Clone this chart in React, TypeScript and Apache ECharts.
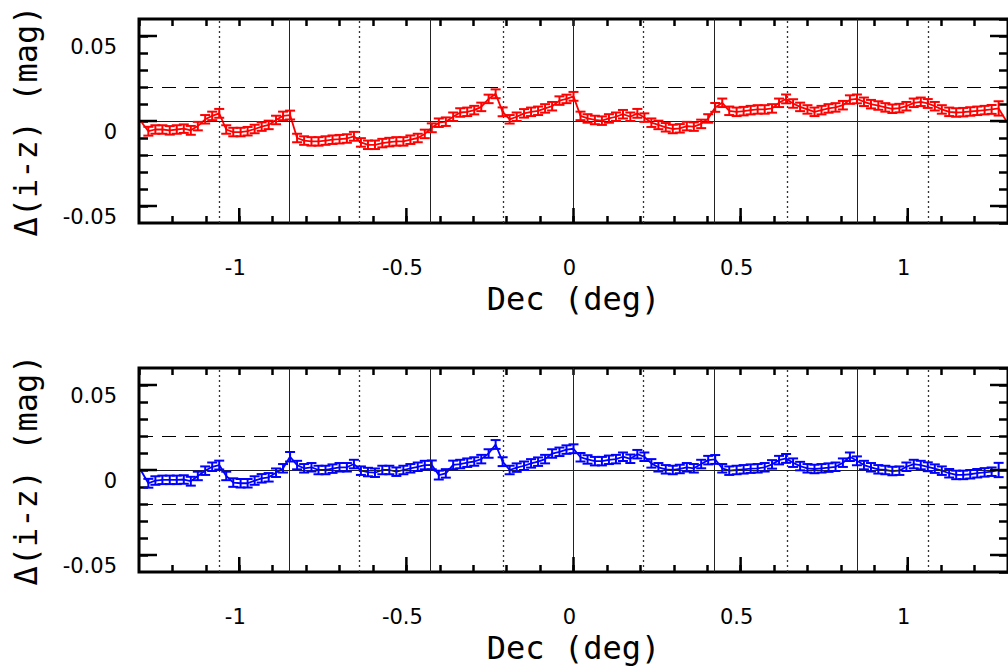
import React, { useEffect, useRef } from "react";
import * as echarts from "echarts";

// Dec (deg) of each bin; the first and last entries are the open ends of the curve
const dec = [
  -1.295, -1.272, -1.251, -1.230, -1.208, -1.187, -1.166, -1.145, -1.124, -1.102, -1.081,
  -1.060, -1.039, -1.018, -0.996, -0.975, -0.954, -0.933, -0.912, -0.890, -0.869,
  -0.848, -0.827, -0.806, -0.784, -0.763, -0.742, -0.721, -0.700, -0.678, -0.657,
  -0.636, -0.615, -0.594, -0.572, -0.551, -0.530, -0.509, -0.488, -0.466, -0.445,
  -0.424, -0.403, -0.382, -0.360, -0.339, -0.318, -0.297, -0.276, -0.254, -0.233,
  -0.212, -0.191, -0.170, -0.148, -0.127, -0.106, -0.085, -0.064, -0.042, -0.021,
  0.000, 0.021, 0.042, 0.064, 0.085, 0.106, 0.127, 0.148, 0.170, 0.191,
  0.212, 0.233, 0.254, 0.276, 0.297, 0.318, 0.339, 0.360, 0.382, 0.403,
  0.424, 0.445, 0.466, 0.488, 0.509, 0.530, 0.551, 0.572, 0.594, 0.615,
  0.636, 0.657, 0.678, 0.700, 0.721, 0.742, 0.763, 0.784, 0.806, 0.827,
  0.848, 0.869, 0.890, 0.912, 0.933, 0.954, 0.975, 0.996, 1.018, 1.039,
  1.060, 1.081, 1.102, 1.124, 1.145, 1.166, 1.187, 1.208, 1.230, 1.251,
  1.272, 1.295,
];

// top panel (red) Δ(i-z)
const diffTop = [
  0.0, -0.006, -0.005, -0.005, -0.0055, -0.005, -0.0045, -0.0055, -0.003, 0.001, 0.003,
  0.0045, -0.005, -0.0065, -0.0065, -0.006, -0.0047, -0.0033, -0.0023, 0.0006, 0.003,
  0.0035, -0.010, -0.0115, -0.012, -0.012, -0.0115, -0.011, -0.0107, -0.0103, -0.009,
  -0.0126, -0.014, -0.014, -0.013, -0.0124, -0.012, -0.012, -0.011, -0.010, -0.0076,
  -0.004, -0.001, -0.0004, 0.0025, 0.005, 0.0054, 0.0064, 0.0083, 0.013, 0.016,
  0.0054, 0.001, 0.0025, 0.0045, 0.0054, 0.006, 0.0074, 0.0087, 0.012, 0.013,
  0.0145, 0.003, 0.0015, 0.0006, 0.0002, 0.0015, 0.0025, 0.004, 0.0025, 0.0045,
  0.002, -0.001, -0.0023, -0.0037, -0.0047, -0.0043, -0.003, -0.0033, -0.0017, 0.0015,
  0.008, 0.0107, 0.006, 0.0054, 0.0058, 0.0064, 0.0068, 0.0068, 0.0074, 0.0107,
  0.013, 0.0103, 0.0083, 0.0068, 0.0054, 0.0064, 0.0074, 0.008, 0.0093, 0.0126,
  0.013, 0.0113, 0.0099, 0.0091, 0.008, 0.0072, 0.0076, 0.0087, 0.0107, 0.0113,
  0.0103, 0.0087, 0.0068, 0.0054, 0.005, 0.0052, 0.0056, 0.006, 0.0064, 0.0068,
  0.0074, 0.0,
];

// bottom panel (blue) Δ(i-z)
const diffBottom = [
  0.0, -0.0078, -0.0062, -0.0058, -0.0058, -0.0058, -0.0056, -0.0066, -0.0035, -0.0004, 0.0019,
  0.0029, -0.0035, -0.0074, -0.0078, -0.0078, -0.0062, -0.0049, -0.0043, -0.0016, 0.001,
  0.0078, 0.0029, 0.001, 0.0016, 0.0, 0.0, 0.0008, 0.0016, 0.0016, 0.0035,
  -0.0004, -0.0012, -0.0016, 0.0, 0.0, -0.001, 0.0, 0.001, 0.0019, 0.0029,
  0.003, -0.003, -0.002, 0.003, 0.0035, 0.0043, 0.005, 0.0064, 0.0097, 0.015,
  0.0049, 0.0, 0.0014, 0.0025, 0.0039, 0.0049, 0.0064, 0.0097, 0.0107, 0.012,
  0.0125, 0.0075, 0.0062, 0.0052, 0.0052, 0.006, 0.0064, 0.0078, 0.0066, 0.0093,
  0.0078, 0.0039, 0.0016, 0.0004, 0.0, 0.0006, 0.0016, 0.001, 0.0035, 0.0058,
  0.0062, 0.001, -0.0004, 0.0, 0.0004, 0.0008, 0.001, 0.0016, 0.0033, 0.0058,
  0.0068, 0.0043, 0.0023, 0.001, 0.0006, 0.001, 0.0014, 0.0019, 0.0043, 0.0078,
  0.0054, 0.0029, 0.0016, 0.0004, 0.0, -0.0006, -0.0004, 0.0019, 0.0035, 0.0029,
  0.0019, 0.0008, -0.0004, -0.0019, -0.0029, -0.0029, -0.0025, -0.0019, -0.0014, -0.001,
  0.0, 0.0,
];

// 1-sigma errors (0 = no bar drawn)
const errTop = [
  0, 0.0026, 0.0025, 0.0025, 0.0025, 0.0025, 0.0025, 0.0026, 0.0025, 0.0025, 0.0025,
  0.0026, 0.0025, 0.0025, 0.0025, 0.0025, 0.0025, 0.0025, 0.0025, 0.0025, 0.0025,
  0.0026, 0.0025, 0.0025, 0.0025, 0.0025, 0.0025, 0.0025, 0.0025, 0.0025, 0.0026,
  0.0025, 0.0025, 0.0025, 0.0025, 0.0025, 0.0025, 0.0025, 0.0025, 0.0025, 0.0025,
  0.0026, 0.0025, 0.0025, 0.0025, 0.0025, 0.0025, 0.0025, 0.0025, 0.0025, 0.0026,
  0.0026, 0.0025, 0.0025, 0.0025, 0.0025, 0.0025, 0.0025, 0.0025, 0.0025, 0.0025,
  0.0026, 0.0025, 0.0025, 0.0025, 0.0025, 0.0025, 0.0025, 0.0025, 0.0025, 0.0026,
  0.0025, 0.0025, 0.0025, 0.0025, 0.0025, 0.0025, 0.0025, 0.0025, 0.0025, 0.0025,
  0.0026, 0.0025, 0.0025, 0.0025, 0.0025, 0.0025, 0.0025, 0.0025, 0.0025, 0.0025,
  0.0026, 0.0025, 0.0025, 0.0025, 0.0025, 0.0025, 0.0025, 0.0025, 0.0025, 0.0025,
  0.0026, 0.0025, 0.0025, 0.0025, 0.0025, 0.0025, 0.0025, 0.0025, 0.0025, 0.0025,
  0.0026, 0.0025, 0.0025, 0.0025, 0.0025, 0.0025, 0.0025, 0.0025, 0.0025, 0.0026,
  0.0042, 0,
];
const errBottom = [
  0, 0.0026, 0.0025, 0.0025, 0.0025, 0.0025, 0.0025, 0.0026, 0.0025, 0.0025, 0.0025,
  0.0026, 0.0025, 0.0025, 0.0025, 0.0025, 0.0025, 0.0025, 0.0025, 0.0025, 0.0025,
  0.0028, 0.0025, 0.0025, 0.0025, 0.0025, 0.0025, 0.0025, 0.0025, 0.0025, 0.0025,
  0.0025, 0.0025, 0.0025, 0.0025, 0.0025, 0.0025, 0.0025, 0.0025, 0.0025, 0.0025,
  0.0026, 0.0026, 0.0025, 0.0025, 0.0025, 0.0025, 0.0025, 0.0025, 0.0025, 0.0026,
  0.0026, 0.0025, 0.0025, 0.0025, 0.0025, 0.0025, 0.0025, 0.0025, 0.0025, 0.0025,
  0.0026, 0.0025, 0.0025, 0.0025, 0.0025, 0.0025, 0.0025, 0.0025, 0.0025, 0.0025,
  0.0025, 0.0025, 0.0025, 0.0025, 0.0025, 0.0025, 0.0025, 0.0025, 0.0025, 0.0025,
  0.0026, 0.0025, 0.0025, 0.0025, 0.0025, 0.0025, 0.0025, 0.0025, 0.0025, 0.0025,
  0.0026, 0.0025, 0.0025, 0.0025, 0.0025, 0.0025, 0.0025, 0.0025, 0.0025, 0.0025,
  0.0026, 0.0025, 0.0025, 0.0025, 0.0025, 0.0025, 0.0025, 0.0025, 0.0025, 0.0025,
  0.0026, 0.0025, 0.0025, 0.0025, 0.0025, 0.0025, 0.0025, 0.0025, 0.0025, 0.0025,
  0.0042, 0,
];

// axes
const xMajorTicks = [-1, -0.5, 0, 0.5, 1];
const yMajorTicks = [-0.05, 0, 0.05];
const camcolEdges = [-0.849, -0.4265, 0, 0.4205, 0.847]; // solid verticals
const camcolMids = [-1.0616, -0.6408, -0.2134, 0.2054, 0.636, 1.057]; // dotted verticals
const dashedLevels = [-0.02, 0.02];
const X_MIN = -1.3;
const X_MAX = 1.3;
const Y_MIN = -0.06;
const Y_MAX = 0.06;

const panels = [
  { top: 19, color: "#ff0000", diff: diffTop, err: errTop },
  { top: 368, color: "#0000ff", diff: diffBottom, err: errBottom },
];

const LABEL_FONT = "'DejaVu Sans', sans-serif";
const NAME_FONT = "'DejaVu Sans Mono', monospace";

function xLabel(v: number) {
  const r = Math.round(v * 10);
  if (Math.abs(v * 10 - r) > 1e-6 || r % 5 !== 0) return "";
  return String(r / 10);
}
function yLabel(v: number) {
  const r = Math.round(v * 100);
  if (Math.abs(v * 100 - r) > 1e-6 || r % 5 !== 0) return "";
  return String(r / 100);
}

function buildOption() {
  const grid: any[] = [];
  const xAxis: any[] = [];
  const yAxis: any[] = [];
  const series: any[] = [];

  panels.forEach((p, i) => {
    grid.push({
      left: 139,
      top: p.top,
      width: 874,
      height: 204,
      show: true,
      borderColor: "#000",
      borderWidth: 3,
      backgroundColor: "transparent",
    });
    const tickStyle = { color: "#000", width: 2.5 };
    const noLine = { show: false, onZero: false };
    xAxis.push({
      type: "value",
      gridIndex: i,
      min: X_MIN,
      max: X_MAX,
      interval: 0.1,
      position: "bottom",
      axisLine: noLine,
      axisTick: { inside: true, length: 7, lineStyle: tickStyle },
      splitLine: { show: false },
      axisLabel: {
        formatter: xLabel,
        fontFamily: LABEL_FONT,
        fontSize: 21,
        color: "#000",
        margin: 34,
        padding: [0, 8, 0, 0],
        showMinLabel: false,
        showMaxLabel: false,
      },
      name: "Dec (deg)",
      nameLocation: "middle",
      nameGap: 60,
      nameTextStyle: { fontFamily: NAME_FONT, fontSize: 32, color: "#000" },
    });
    xAxis.push({
      type: "value",
      gridIndex: i,
      min: X_MIN,
      max: X_MAX,
      interval: 0.1,
      position: "top",
      axisLine: noLine,
      axisTick: { inside: true, length: 7, lineStyle: tickStyle },
      splitLine: { show: false },
      axisLabel: { show: false },
    });
    yAxis.push({
      type: "value",
      gridIndex: i,
      min: Y_MIN,
      max: Y_MAX,
      interval: 0.01,
      position: "left",
      axisLine: noLine,
      axisTick: { inside: true, length: 9, lineStyle: tickStyle },
      splitLine: { show: false },
      axisLabel: {
        formatter: yLabel,
        fontFamily: LABEL_FONT,
        fontSize: 21,
        color: "#000",
        margin: 22,
        verticalAlign: "top",
        showMinLabel: false,
        showMaxLabel: false,
      },
      name: "Δ(i-z) (mag)",
      nameLocation: "middle",
      nameRotate: 90,
      nameGap: 97,
      nameTextStyle: { fontFamily: NAME_FONT, fontSize: 32, color: "#000" },
    });
    yAxis.push({
      type: "value",
      gridIndex: i,
      min: Y_MIN,
      max: Y_MAX,
      interval: 0.01,
      position: "right",
      axisLine: noLine,
      axisTick: { inside: true, length: 9, lineStyle: tickStyle },
      splitLine: { show: false },
      axisLabel: { show: false },
    });

    const xi = i * 2;
    const yi = i * 2;

    // reference lines
    series.push({
      type: "line",
      xAxisIndex: xi,
      yAxisIndex: yi,
      data: [],
      z: 1,
      silent: true,
      markLine: {
        silent: true,
        symbol: ["none", "none"],
        label: { show: false },
        animation: false,
        data: [
          ...camcolEdges.map((v) => ({
            xAxis: v,
            lineStyle: { type: "solid", color: "#222", width: 1 },
          })),
          ...camcolMids.map((v) => ({
            xAxis: v,
            lineStyle: { type: [2, 3], color: "#333", width: 1.3 },
          })),
          { yAxis: 0, lineStyle: { type: "solid", color: "#222", width: 1.2 } },
          ...dashedLevels.map((v) => ({
            yAxis: v,
            lineStyle: { type: [14, 9], color: "#000", width: 1.2 },
          })),
        ],
      },
    });

    // major ticks (longer)
    series.push({
      type: "custom",
      xAxisIndex: xi,
      yAxisIndex: yi,
      z: 6,
      silent: true,
      clip: false,
      encode: { x: 0, y: 1 },
      data: [
        ...xMajorTicks.map((v) => [v, 0, 0]),
        ...yMajorTicks.map((v) => [0, v, 1]),
      ],
      renderItem: (params: any, api: any) => {
        const cs = params.coordSys;
        const kind = api.value(2);
        const style = { stroke: "#000", lineWidth: 2.5 };
        if (kind === 0) {
          const pt = api.coord([api.value(0), Y_MIN]);
          const bottom = cs.y + cs.height;
          return {
            type: "line",
            shape: { x1: pt[0], y1: bottom, x2: pt[0], y2: bottom - 15 },
            style,
          };
        }
        const pt = api.coord([X_MIN, api.value(1)]);
        const right = cs.x + cs.width;
        return {
          type: "group",
          children: [
            { type: "line", shape: { x1: cs.x, y1: pt[1], x2: cs.x + 18, y2: pt[1] }, style },
            { type: "line", shape: { x1: right - 18, y1: pt[1], x2: right, y2: pt[1] }, style },
          ],
        };
      },
    });

    // data line
    series.push({
      type: "line",
      xAxisIndex: xi,
      yAxisIndex: yi,
      data: dec.map((d, j) => [d, p.diff[j]]),
      showSymbol: false,
      symbol: "none",
      z: 4,
      lineStyle: { color: p.color, width: 1.8 },
      silent: true,
    });

    // error bars
    series.push({
      type: "custom",
      xAxisIndex: xi,
      yAxisIndex: yi,
      z: 5,
      silent: true,
      encode: { x: 0, y: 1 },
      data: dec.map((d, j) => [d, p.diff[j], p.err[j]]),
      renderItem: (params: any, api: any) => {
        const e = api.value(2);
        if (!e) return null;
        const x = api.value(0);
        const y = api.value(1);
        const hi = api.coord([x, y + e]);
        const lo = api.coord([x, y - e]);
        const hw = 5;
        const style = { stroke: p.color, lineWidth: 2 };
        return {
          type: "group",
          children: [
            { type: "line", shape: { x1: hi[0], y1: hi[1], x2: lo[0], y2: lo[1] }, style },
            { type: "line", shape: { x1: hi[0] - hw, y1: hi[1], x2: hi[0] + hw, y2: hi[1] }, style },
            { type: "line", shape: { x1: lo[0] - hw, y1: lo[1], x2: lo[0] + hw, y2: lo[1] }, style },
          ],
        };
      },
    });
  });

  return {
    animation: false,
    backgroundColor: "#fff",
    grid,
    xAxis,
    yAxis,
    series,
  };
}

export default function App() {
  const ref = useRef<HTMLDivElement>(null);
  useEffect(() => {
    if (!ref.current) return;
    const chart = echarts.init(ref.current, undefined, { renderer: "svg" });
    chart.setOption(buildOption() as any);
    return () => chart.dispose();
  }, []);
  return (
    <div
      ref={ref}
      style={{ position: "fixed", left: 0, top: 0, width: 1008, height: 670, background: "#fff" }}
    />
  );
}
